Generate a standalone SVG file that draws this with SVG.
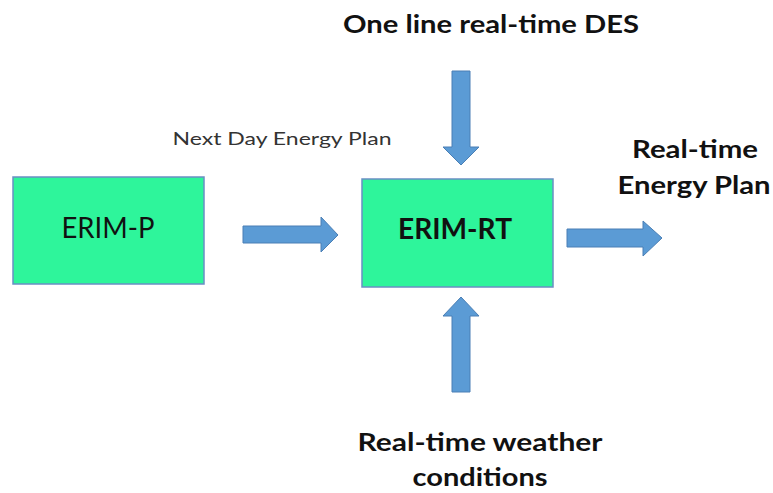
<svg xmlns="http://www.w3.org/2000/svg" width="773" height="493" viewBox="0 0 773 493">
<defs>
<style>
.box{fill:#2ef59b;stroke:#6a8fc4;stroke-width:1.5}
.arr{fill:#5b9bd5;stroke:#4a7fb5;stroke-width:1}
.t{font-family:Lato,"Open Sans","Liberation Sans",sans-serif;fill:#111}
.b{font-weight:bold}
</style>
</defs>
<rect width="773" height="493" fill="#fff"/>
<g id="erim-p">
<rect class="box" x="13" y="177" width="191" height="107"/>
<text class="t" x="108" y="238" font-size="28" text-anchor="middle" textLength="93" lengthAdjust="spacingAndGlyphs">ERIM-P</text>
</g>
<g id="erim-rt">
<rect class="box" x="362" y="179" width="191" height="108"/>
<text class="t b" x="455" y="239" font-size="28" text-anchor="middle" textLength="114" lengthAdjust="spacingAndGlyphs">ERIM-RT</text>
</g>
<g id="label-des">
<text class="t b" x="491" y="33" font-size="25" text-anchor="middle" textLength="296" lengthAdjust="spacingAndGlyphs">One line real-time DES</text>
</g>
<g id="label-next">
<text class="t" x="282" y="145" font-size="17" text-anchor="middle" textLength="219" lengthAdjust="spacingAndGlyphs" style="fill:#333">Next Day Energy Plan</text>
</g>
<g id="label-rtplan">
<text class="t b" x="695" y="158" font-size="25" text-anchor="middle" textLength="126" lengthAdjust="spacingAndGlyphs">Real-time</text>
<text class="t b" x="694" y="194" font-size="25" text-anchor="middle" textLength="153" lengthAdjust="spacingAndGlyphs">Energy Plan</text>
</g>
<g id="label-weather">
<text class="t b" x="480" y="451" font-size="25" text-anchor="middle" textLength="245" lengthAdjust="spacingAndGlyphs">Real-time weather</text>
<text class="t b" x="480" y="486" font-size="25" text-anchor="middle" textLength="135" lengthAdjust="spacingAndGlyphs">conditions</text>
</g>
<g id="connectors">
<path class="arr" d="M243,226 H321 V217 L338,235 L321,252 V243 H243 Z"/>
<path class="arr" d="M567,229 H643 V221 L662,238 L643,256 V247 H567 Z"/>
<path class="arr" d="M452,71 H470 V147 H479 L461,165 L443,147 H452 Z"/>
<path class="arr" d="M452,392 H470 V316 H479 L461,297 L443,316 H452 Z"/>
</g>
</svg>
